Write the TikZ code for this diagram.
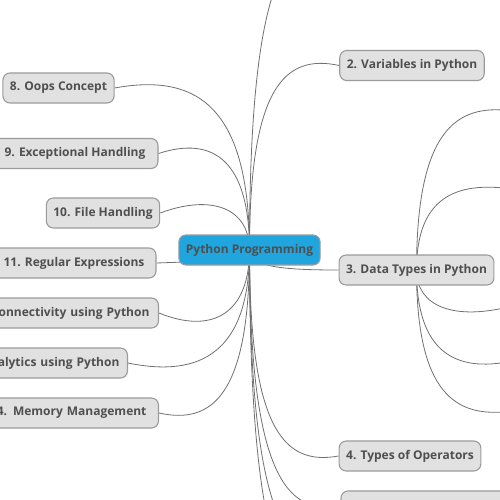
\documentclass[tikz,border=0pt]{standalone}
\usepackage{fontspec}
\setmainfont{Open Sans}
\usetikzlibrary{backgrounds}
\definecolor{rootblue}{HTML}{21A5DE}
\definecolor{topicgray}{HTML}{E1E1E1}
\definecolor{edgegray}{HTML}{9B9B9B}
\definecolor{inkgray}{HTML}{4F4F4F}
\definecolor{linkgray}{HTML}{707070}

\begin{document}
\begin{tikzpicture}[x=1pt, y=-1pt, line cap=round,
  every node/.style={font=\fontsize{12}{14}\selectfont\bfseries, text=inkgray},
  topic/.style={draw=edgegray, fill=topicgray, line width=1.1pt, rounded corners=7pt,
    minimum height=30pt, inner xsep=7pt, inner ysep=0pt},
  root/.style={topic, fill=rootblue},
  link/.style={draw=linkgray, line width=0.8pt}]

\useasboundingbox (0,0) rectangle (500,500);
\clip (0,0) rectangle (500,500);

% the central topic
\node[root, minimum width=141pt] (root) at (249.5,250) {Python Programming};

% right hand topics (1, 6 and 7 lie outside the frame)
\coordinate (intro) at (341,-60);
\node[topic, minimum width=142pt] (vars) at (412,65.5) {2. Variables in Python};
\node[topic, minimum width=151pt] (types) at (416.5,270) {3. Data Types in Python};
\node[topic, minimum width=138pt] (ops) at (410,456) {4. Types of Operators};
\node[topic, minimum width=170pt] (ctrl) at (426,506) {};
\coordinate (sixth) at (341,556);
\coordinate (seventh) at (341,606);

% sub topics of the data types, cut by the right edge
\coordinate (dt1) at (512,111);
\coordinate (dt2) at (512,189);
\coordinate (dt3) at (512,306);
\coordinate (dt4) at (512,361);
\coordinate (dt5) at (512,411);

% left hand topics, the last three cut by the left edge
\node[topic, minimum width=109pt] (oops) at (58.5,88) {8. Oops Concept};
\node[topic, minimum width=166pt] (exc) at (75,153.5) {9. Exceptional Handling};
\node[topic, minimum width=112pt] (file) at (103,213) {10. File Handling};
\node[topic, minimum width=164pt] (regex) at (74,263) {11. Regular Expressions};
\node[topic, anchor=east, inner xsep=9pt, text width=170pt, align=right] (dbconn) at (159,313) {onnectivity using Python};
\node[topic, anchor=east, inner xsep=8pt, text width=150pt, align=right] (analytics) at (128,363) {alytics using Python};
\node[topic, anchor=east, inner xsep=12pt, text width=170pt, align=right] (memory) at (159,413) {4. Memory Management};

% curved links, drawn behind the boxes from the hub centres
\begin{scope}[on background layer]
\clip (0,0) rectangle (500,500);
\draw[link] (root.center) .. controls +(0,-270) and +(-55,-12) .. (intro);
\draw[link] (root.center) .. controls +(0,-162) and +(-55,-12) .. (vars.west);
\draw[link] (root.center) .. controls +(0,17) and +(-55,0) .. (types.west);
\draw[link] (root.center) .. controls +(0,179) and +(-55,10) .. (ops.west);
\draw[link] (root.center) .. controls +(0,222) and +(-55,10) .. (ctrl.west);
\draw[link] (root.center) .. controls +(0,265) and +(-55,10) .. (sixth);
\draw[link] (root.center) .. controls +(0,306) and +(-55,10) .. (seventh);

\draw[link] (root.center) .. controls +(0,-144) and +(82,-15) .. (oops.east);
\draw[link] (root.center) .. controls +(0,-89) and +(55,-18) .. (exc.east);
\draw[link] (root.center) .. controls +(0,-40) and +(54,-20) .. (file.east);
\draw[link] (root.center) .. controls +(0,11) and +(55,-2) .. (regex.east);
\draw[link] (root.center) .. controls +(0,63) and +(54,22) .. (dbconn.east);
\draw[link] (root.center) .. controls +(0,102) and +(73,15) .. (analytics.east);
\draw[link] (root.center) .. controls +(0,144) and +(54,12) .. (memory.east);

\draw[link] (types.center) .. controls +(0,-138) and +(-57,-8) .. (dt1);
\draw[link] (types.center) .. controls +(0,-72) and +(-57,-8) .. (dt2);
\draw[link] (types.center) .. controls +(0,37) and +(-57,15) .. (dt3);
\draw[link] (types.center) .. controls +(0,82) and +(-57,12) .. (dt4);
\draw[link] (types.center) .. controls +(0,123) and +(-57,8) .. (dt5);
\end{scope}

\end{tikzpicture}
\end{document}
